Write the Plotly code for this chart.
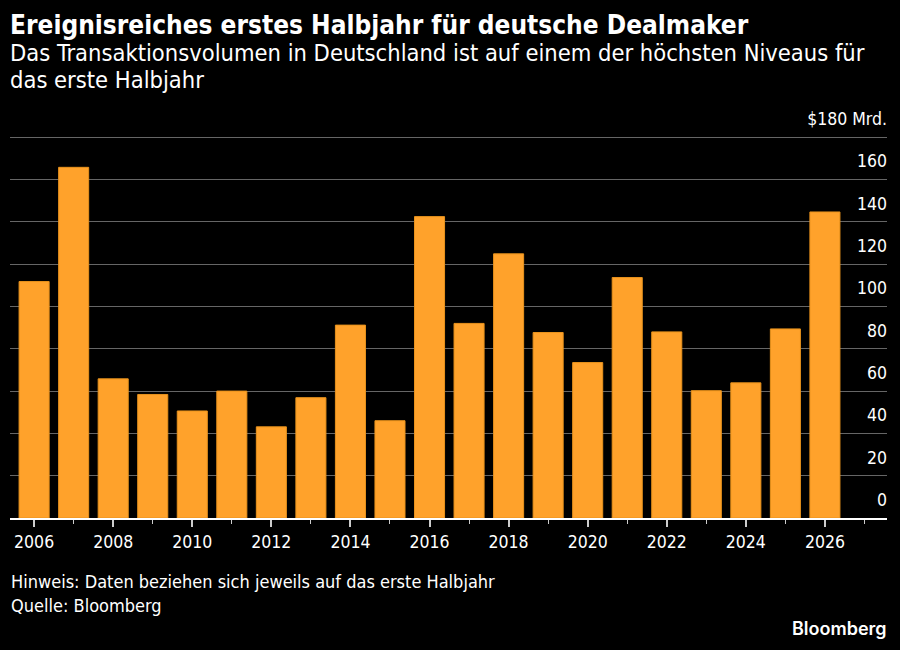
import plotly.graph_objects as go

years = list(range(2006, 2027))
values = [111.8, 165.8, 65.8, 58.4, 50.6, 60.0, 43.1, 56.9, 91.2, 46.0, 142.5,
          92.0, 124.9, 87.7, 73.5, 113.7, 88.0, 60.2, 63.9, 89.4, 144.7]
y_tickvals = [0, 20, 40, 60, 80, 100, 120, 140, 160, 180]
y_ticktext = ["0", "20", "40", "60", "80", "100", "120", "140", "160", "$180 Mrd."]
x_tickvals = list(range(2006, 2027, 2))

title = "Ereignisreiches erstes Halbjahr für deutsche Dealmaker"
subtitle_1 = "Das Transaktionsvolumen in Deutschland ist auf einem der höchsten Niveaus für"
subtitle_2 = "das erste Halbjahr"
note = "Hinweis: Daten beziehen sich jeweils auf das erste Halbjahr"
source = "Quelle: Bloomberg"

W, H = 900, 650
M_L, M_R, M_T, M_B = 10, 13, 95, 132
FONT = "DejaVu Sans Condensed"
Y_RANGE = [0, 200]


def py(pix):
    # pixel y (from top) -> paper y
    return (H - M_B - pix) / (H - M_T - M_B)


def px(pix):
    return (pix - M_L) / (W - M_L - M_R)


fig = go.Figure()
fig.add_trace(go.Bar(
    x=years, y=values,
    marker=dict(color="#ffa22b", line=dict(color="#e8921c", width=1)),
    width=0.76,
    hoverinfo="skip",
))
# invisible helper trace so the label-only axis is drawn
fig.add_trace(go.Scatter(
    x=years, y=values, yaxis="y2", mode="markers",
    marker=dict(opacity=0), hoverinfo="skip", showlegend=False,
))

fig.update_layout(
    width=W, height=H,
    paper_bgcolor="#000000", plot_bgcolor="#000000",
    margin=dict(l=M_L, r=M_R, t=M_T, b=M_B),
    showlegend=False,
    font=dict(family=FONT, color="#ffffff", size=17),
)

fig.update_xaxes(
    range=[2005.39, 2027.57],
    tickvals=x_tickvals, ticktext=[str(v) for v in x_tickvals],
    ticks="outside", ticklen=7, tickwidth=2, tickcolor="#cccccc",
    minor=dict(ticks="outside", ticklen=4, tickwidth=1, tickcolor="#cccccc", dtick=1, tick0=2007),
    showline=True, linecolor="#ffffff", linewidth=2,
    showgrid=False, zeroline=False, automargin=False,
    tickfont=dict(size=17.5, color="#ffffff"),
)

fig.update_layout(
    yaxis=dict(
        range=Y_RANGE, tickvals=y_tickvals,
        showticklabels=False, automargin=False,
        showgrid=True, gridcolor="#666666", gridwidth=1.3,
        zeroline=False, showline=False, ticks="",
    ),
    yaxis2=dict(
        range=Y_RANGE, overlaying="y", anchor="free", position=1, side="left",
        tickvals=y_tickvals, ticktext=y_ticktext,
        ticklabelposition="outside top",
        ticklabelshift=-6,
        showgrid=False, zeroline=False, showline=False, ticks="",
        automargin=False,
        tickfont=dict(size=17.5, color="#ffffff"),
    ),
)

ann = [
    dict(text="<b>" + title + "</b>", x=px(8), y=py(25), xanchor="left", yanchor="middle",
         font=dict(size=26, family=FONT, color="#ffffff")),
    dict(text=subtitle_1, x=px(8), y=py(53), xanchor="left", yanchor="middle",
         font=dict(size=23.5, family=FONT, color="#ffffff"), align="left"),
    dict(text=subtitle_2, x=px(8), y=py(80), xanchor="left", yanchor="middle",
         font=dict(size=23.5, family=FONT, color="#ffffff"), align="left"),
    dict(text=note, x=px(9), y=py(581), xanchor="left", yanchor="middle",
         font=dict(size=18, family=FONT, color="#ffffff"), align="left"),
    dict(text=source, x=px(9), y=py(605), xanchor="left", yanchor="middle",
         font=dict(size=18, family=FONT, color="#ffffff"), align="left"),
    dict(text="Bloomberg", x=px(889), y=py(628), xanchor="right", yanchor="middle",
         font=dict(size=18, family="Inter", color="#ffffff", weight=600)),
]
for a in ann:
    a.update(xref="paper", yref="paper", showarrow=False)
fig.update_layout(annotations=ann)

fig.write_html(
    "out.html",
    config={"displayModeBar": False},
    post_script="document.body.style.margin='0';document.body.style.background='#000';"
                "document.documentElement.style.overflow='hidden';",
)
